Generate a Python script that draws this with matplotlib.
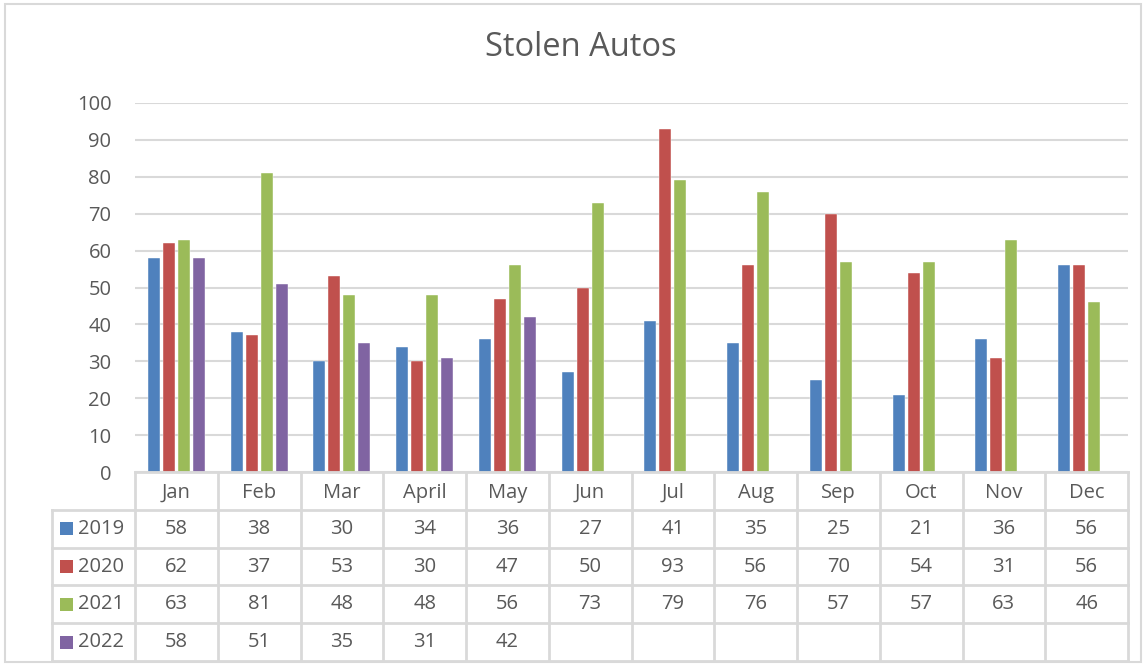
import numpy as np
import matplotlib
matplotlib.use("Agg")
import matplotlib.pyplot as plt
from matplotlib.patches import Rectangle
from matplotlib.lines import Line2D

months = ["Jan", "Feb", "Mar", "April", "May", "Jun", "Jul", "Aug", "Sep", "Oct", "Nov", "Dec"]
series_names = ["2019", "2020", "2021", "2022"]
v2019 = [58, 38, 30, 34, 36, 27, 41, 35, 25, 21, 36, 56]
v2020 = [62, 37, 53, 30, 47, 50, 93, 56, 70, 54, 31, 56]
v2021 = [63, 81, 48, 48, 56, 73, 79, 76, 57, 57, 63, 46]
v2022 = [58, 51, 35, 31, 42, None, None, None, None, None, None, None]
yticks = [0, 10, 20, 30, 40, 50, 60, 70, 80, 90, 100]
colors = ["#4F81BD", "#C0504D", "#9BBB59", "#8064A2"]
series = [v2019, v2020, v2021, v2022]

plt.rcParams['font.family'] = ['Open Sans', 'DejaVu Sans']
TXT = "#595959"
GRID = "#D9D9D9"
FS = 14.5

W, H = 1146, 667
fig = plt.figure(figsize=(W / 100, H / 100), dpi=100)
fig.patch.set_facecolor("white")

def fx(px):
    return px / W
def fy(py):
    return 1 - py / H

# outer border
fig.add_artist(Rectangle((fx(5), fy(662)), fx(1141) - fx(5), fy(4) - fy(662),
                         transform=fig.transFigure, fill=False, edgecolor=GRID, lw=1.5))

left, right, top, bottom = 135, 1128, 103, 472
ax = fig.add_axes([fx(left), fy(bottom), fx(right) - fx(left), fy(top) - fy(bottom)])
x = np.arange(len(months))
bw = 0.145
step = 0.181
for i, (vals, c) in enumerate(zip(series, colors)):
    vv = [np.nan if v is None else v for v in vals]
    ax.bar(x + (i - 1.5) * step, vv, width=bw, color=c, edgecolor="#FFFFFF", linewidth=0.3, zorder=3)
ax.set_xlim(-0.5, 11.5)
ax.set_ylim(0, 100)
ax.set_yticks(yticks)
ax.set_yticklabels([str(t) for t in yticks], fontsize=FS, color=TXT)
ax.tick_params(axis='y', length=0, pad=17)
ax.set_xticks([])
for s in ax.spines.values():
    s.set_visible(False)
ax.grid(axis='y', color=GRID, lw=1.5, zorder=0)
ax.set_axisbelow(True)

fig.text(fx(581), fy(48), "Stolen Autos", ha="center", va="center", fontsize=23.5, color=TXT)

# data table
tleft, ttop, tbot = 52, 472, 661
colw = (right - left) / 12.0
legw = (left - tleft) / colw
tax = fig.add_axes([fx(tleft), fy(tbot), fx(right) - fx(tleft), fy(ttop) - fy(tbot)])
tax.set_xlim(-legw, 12)
tax.set_ylim(5, 0)
tax.axis("off")
lc = GRID
lw = 2.0
tax.add_line(Line2D([0, 12], [0, 0], color=lc, lw=lw, clip_on=False))
for r in range(1, 6):
    tax.add_line(Line2D([-legw, 12], [r, r], color=lc, lw=lw, clip_on=False))
tax.add_line(Line2D([-legw, -legw], [1, 5], color=lc, lw=lw, clip_on=False))
for cidx in range(13):
    tax.add_line(Line2D([cidx, cidx], [0, 5], color=lc, lw=lw, clip_on=False))
for j, m in enumerate(months):
    tax.text(j + 0.5, 0.55, m, ha="center", va="center", fontsize=FS, color=TXT)
for r, (name, vals, c) in enumerate(zip(series_names, series, colors)):
    yy = r + 1.5
    sq = 13 / colw
    tax.add_patch(Rectangle((-legw + 8 / colw, yy - 0.17), sq, 0.34, facecolor=c, edgecolor="none", clip_on=False))
    tax.text(-legw + 26 / colw, yy, name, ha="left", va="center", fontsize=FS, color=TXT)
    for j, v in enumerate(vals):
        if v is not None:
            tax.text(j + 0.5, yy, str(v), ha="center", va="center", fontsize=FS, color=TXT)

fig.savefig("out.png", dpi=100, facecolor="white")
